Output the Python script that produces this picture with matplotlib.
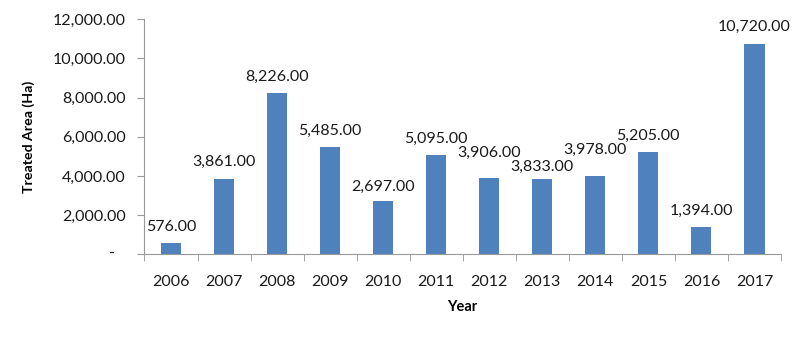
import matplotlib
matplotlib.use("Agg")
import matplotlib.pyplot as plt
from matplotlib.ticker import FuncFormatter, FixedLocator
from matplotlib.transforms import blended_transform_factory, offset_copy

years = ["2006", "2007", "2008", "2009", "2010", "2011",
         "2012", "2013", "2014", "2015", "2016", "2017"]
treated_area = [576, 3861, 8226, 5485, 2697, 5095,
                3906, 3833, 3978, 5205, 1394, 10720]
# gap in pixels between each bar top and the baseline of its value label
label_lift_px = [12, 13, 12, 12, 11, 12, 21, 8, 23, 12, 12, 13]

plt.rcParams['font.family'] = ['Lato', 'DejaVu Sans']
DPI = 100
PX = 72 / DPI  # points per pixel

fig = plt.figure(figsize=(8, 3.37), dpi=DPI)
ax = fig.add_axes([0.1806, 0.2454, 0.7956, 0.6973])

x = range(len(years))
ax.bar(x, treated_area, width=0.38, color="#4F81BD", zorder=2)

for xi, v, lift in zip(x, treated_area, label_lift_px):
    ax.annotate(f"{v:,.2f}", (xi, v), xytext=(0, lift * PX), textcoords="offset points",
                ha="center", va="baseline", fontsize=11.5, color="#1a1a1a")

ax.set_xlim(-0.5, len(years) - 0.5)
ax.set_ylim(0, 12000)
ax.set_yticks(range(0, 12001, 2000))
# accounting-style axis: zero is shown as a dash, set in from the number column
ax.yaxis.set_major_formatter(FuncFormatter(lambda v, p: "" if v == 0 else f"{v:,.2f}"))
zero_tf = offset_copy(blended_transform_factory(ax.transAxes, ax.transData),
                      fig=fig, x=-21, y=0, units="points")
ax.text(0, 0, "-", transform=zero_tf, ha="right", va="center",
        fontsize=11.5, color="#1a1a1a")

ax.set_xticks(list(x))
ax.set_xticklabels(years)
ax.xaxis.set_minor_locator(FixedLocator([i - 0.5 for i in range(len(years) + 1)]))
ax.tick_params(axis="x", which="major", length=0, pad=15, labelsize=11.5, labelcolor="#1a1a1a")
ax.tick_params(axis="x", which="minor", length=5, color="#999999", direction="out")
ax.tick_params(axis="y", length=5, color="#999999", labelsize=11.5, pad=8.5, labelcolor="#1a1a1a")

for s in ["top", "right"]:
    ax.spines[s].set_visible(False)
for s in ["left", "bottom"]:
    ax.spines[s].set_color("#999999")

ax.set_xlabel("Year", fontweight="bold", fontsize=10.5, labelpad=8)
ax.set_ylabel("Treated Area (Ha)", fontweight="bold", fontsize=10.2, labelpad=13)

fig.savefig("out.png", dpi=DPI)
